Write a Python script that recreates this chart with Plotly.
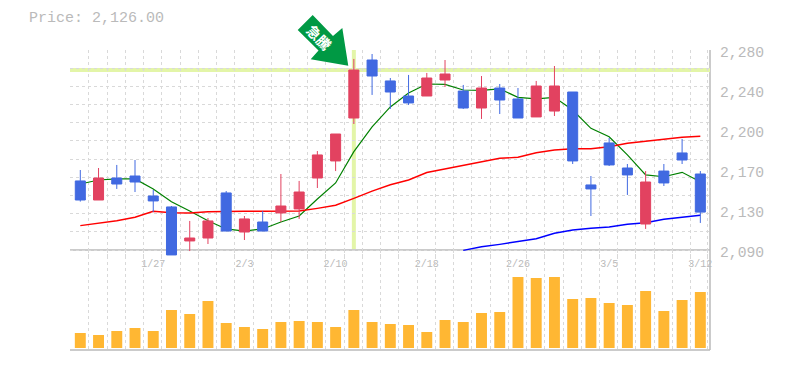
import plotly.graph_objects as go

# ---- data ----
open_ = [2155.6,2137.5,2158.4,2160.3,2141.3,2130.9,2098.6,2101.4,2144.2,2107.1,2116.6,2125.2,2129.0,2158.4,2174.6,2215.4,2270.5,2250.6,2236.3,2236.3,2251.5,2241.0,2224.9,2243.9,2233.5,2216.4,2222.0,2240.1,2151.8,2191.7,2167.9,2114.7,2165.0,2182.2,2162.2]
high = [2166.0,2167.9,2170.8,2175.5,2147.0,2131.8,2117.6,2120.4,2146.0,2122.3,2127.0,2162.2,2155.6,2184.0,2200.2,2271.5,2276.2,2253.4,2256.3,2258.2,2270.5,2246.8,2255.3,2247.7,2243.9,2250.6,2264.8,2240.1,2160.3,2196.4,2171.7,2165.0,2171.7,2195.5,2165.0]
low = [2136.0,2137.5,2148.0,2145.1,2126.1,2085.3,2089.0,2095.7,2108.0,2099.5,2108.0,2116.6,2119.5,2148.9,2165.0,2209.7,2237.3,2224.0,2227.8,2236.3,2244.9,2224.0,2214.5,2219.2,2215.4,2216.4,2217.3,2171.7,2122.3,2169.8,2142.3,2110.0,2150.8,2171.7,2115.7]
close = [2137.5,2158.4,2152.7,2154.6,2136.6,2085.3,2101.4,2117.6,2108.0,2119.5,2108.0,2131.8,2145.1,2180.3,2200.2,2261.0,2255.3,2240.1,2229.7,2253.4,2257.2,2224.9,2243.9,2232.5,2215.4,2245.8,2245.8,2174.6,2148.0,2170.8,2161.3,2154.6,2153.7,2175.5,2126.0]
ma_short = [2152.7,2156.5,2157.5,2157.5,2148.0,2135.9,2127.0,2117.8,2110.0,2108.0,2110.0,2116.6,2122.3,2138.5,2153.7,2183.4,2206.9,2225.9,2239.2,2247.7,2247.4,2242.0,2241.7,2243.0,2235.0,2233.5,2235.0,2223.0,2205.6,2197.6,2180.3,2161.3,2159.6,2163.8,2154.9]
ma_mid = [2113.1,2115.4,2117.8,2121.1,2126.8,2125.4,2125.2,2126.4,2126.8,2126.8,2126.8,2126.8,2127.0,2129.6,2132.5,2139.1,2146.0,2152.0,2156.5,2163.6,2167.0,2170.1,2173.6,2177.1,2178.1,2182.4,2185.0,2186.2,2186.2,2188.1,2191.4,2193.3,2194.5,2197.1,2198.0]
ma_long = [None]*21 + [2089.7,2093.1,2095.4,2097.9,2100.7,2105.9,2109.0,2110.6,2111.9,2114.4,2115.9,2119.2,2121.1,2123.0]
volume = [15,13,17,20,17,38,34,47,25,21,19,26,27,26,21,38,26,24,23,16,28,26,35,36,71,70,71,49,50,45,43,57,37,48,56]
date_ticks = [4,9,14,19,24,29,34]
date_labels = ["1/27","2/3","2/10","2/18","2/26","3/5","3/12"]
price_ticks = [2280,2242,2204,2166,2128,2090]
price_labels = ["2,280","2,240","2,200","2,170","2,130","2,090"]
resistance_price = 2261
signal_index = 15
signal_label = "急騰"
title_text = "Price: 2,126.00"

# ---- layout constants ----
W, H = 785, 370
L, R, T, B = 70, 710, 50, 350
GREY = "#bababa"
GRID = "#d9d9d9"
MONO = "Liberation Mono"
xs = list(range(len(close)))
x_range = [-0.565, 34.53]
y_range = [2084.3, 2280]

def px(x):
    return (x - L) / (R - L)

def py(y):
    return (B - y) / (B - T)

fig = go.Figure()
for vals, col, w in [(ma_short, "#008000", 1.2), (ma_mid, "#ff0000", 1.4), (ma_long, "#0000ff", 1.4)]:
    fig.add_trace(go.Scatter(x=xs, y=vals, mode="lines", line=dict(color=col, width=w), yaxis="y", xaxis="x"))
fig.add_trace(go.Bar(x=xs, y=volume, marker=dict(color="#ffb733", line_width=0), yaxis="y2", xaxis="x"))
fig.add_trace(go.Candlestick(
    x=xs, open=open_, high=high, low=low, close=close, yaxis="y3", xaxis="x", whiskerwidth=0,
    increasing=dict(line=dict(color="#e24260", width=1), fillcolor="#e24260"),
    decreasing=dict(line=dict(color="#4169e1", width=1), fillcolor="#4169e1"),
))

arrow = [(312.7, 15), (333, 36), (342.3, 28), (348.3, 65.7), (310.7, 59.3), (318.5, 50.5), (297.7, 30)]
arrow_path = "M " + " L ".join(f"{px(a):.4f},{py(b):.4f}" for a, b in arrow) + " Z"

shapes = [
    dict(type="line", xref="paper", yref="paper", x0=0, x1=1, y0=py(250), y1=py(250), line=dict(color=GREY, width=1.5), layer="below"),
    dict(type="line", xref="paper", yref="paper", x0=0, x1=1, y0=0, y1=0, line=dict(color=GREY, width=1.5), layer="below"),
    dict(type="line", xref="paper", yref="paper", x0=1, x1=1, y0=0, y1=1, line=dict(color=GREY, width=1.5), layer="below"),
    dict(type="line", xref="paper", yref="y", x0=0, x1=1, y0=resistance_price, y1=resistance_price, line=dict(color="#e3f5a8", width=4), layer="below"),
    dict(type="line", xref="x", yref="paper", x0=signal_index, x1=signal_index, y0=py(249), y1=1, line=dict(color="#e3f5a8", width=4), layer="below"),
    dict(type="path", xref="paper", yref="paper", path=arrow_path, fillcolor="#009944", line=dict(color="#009944", width=0), layer="above"),
]

anns = [dict(xref="paper", yref="paper", x=px(27), y=py(18), yshift=-1, xanchor="left", yanchor="middle", showarrow=False,
             text=title_text, font=dict(family=MONO, size=15, color=GREY))]
for v, t in zip(price_ticks, price_labels):
    anns.append(dict(xref="paper", yref="y", x=px(718), y=v, yshift=-3, xanchor="left", yanchor="middle",
                     showarrow=False, text=t, font=dict(family=MONO, size=14.7, color=GREY)))
anns.append(dict(xref="paper", yref="paper", x=px(319), y=py(37.5), xanchor="center", yanchor="middle", showarrow=False,
                 textangle=45, text=f"<b>{signal_label}</b>",
                 font=dict(family="Noto Sans CJK JP", size=14, color="white")))

fig.update_layout(
    width=W, height=H, autosize=False,
    margin=dict(l=L, r=W - R, t=T, b=H - B),
    paper_bgcolor="white", plot_bgcolor="rgba(0,0,0,0)",
    showlegend=False, bargap=0.4, boxgap=0.45, boxgroupgap=0,
    shapes=shapes, annotations=anns,
    xaxis=dict(
        range=x_range, rangeslider=dict(visible=False), showline=False, zeroline=False, showgrid=False,
        tickmode="array", tickvals=date_ticks, ticktext=date_labels, ticks="",
        tickfont=dict(family=MONO, size=10, color=GREY), tickangle=0,
        minor=dict(tickmode="array", tickvals=[i - 0.53 for i in xs] + [34.42], showgrid=True,
                   gridcolor=GRID, griddash="3px,3px", gridwidth=1, ticks=""),
    ),
    yaxis=dict(domain=[py(256), 1], range=y_range, tick0=2090, dtick=17.27, showticklabels=False,
               showgrid=True, gridcolor=GRID, griddash="3px,3px", gridwidth=1, zeroline=False, ticks="", showline=False),
    yaxis2=dict(domain=[0, py(250)], range=[-2, 98], showgrid=False, showticklabels=False, zeroline=False, ticks="", showline=False),
    yaxis3=dict(overlaying="y", range=y_range, showgrid=False, showticklabels=False, zeroline=False, ticks="", showline=False),
)

fig.write_html("out.html", config={"displayModeBar": False},
               post_script="document.body.style.margin='0';document.documentElement.style.overflow='hidden';")
